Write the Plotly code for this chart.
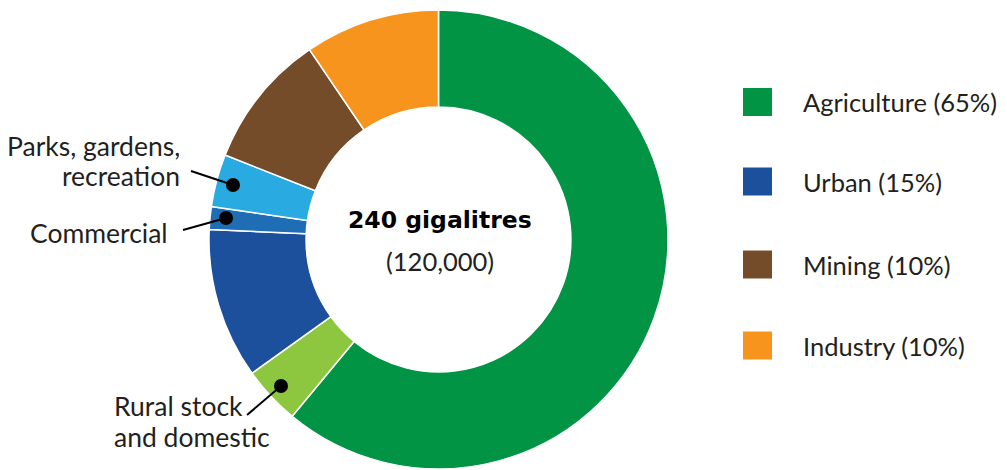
import plotly.graph_objects as go

# Data (percent share of slices, clockwise from 12 o'clock)
slice_names = ["Agriculture", "Rural stock and domestic", "Urban", "Commercial",
               "Parks, gardens, recreation", "Mining", "Industry"]
slice_values = [61.0, 4.1, 10.6, 1.6, 3.7, 9.5, 9.5]
slice_colors = ["#009444", "#8dc63f", "#1c4f9c", "#1f6db5", "#29abe2", "#754c29", "#f7941d"]

legend_labels = ["Agriculture (65%)", "Urban (15%)", "Mining (10%)", "Industry (10%)"]
legend_colors = ["#009444", "#1c4f9c", "#754c29", "#f7941d"]

center_title = "240 gigalitres"
center_sub = "(120,000)"

W, H = 1007, 470
OFF = 8  # page body margin offset
FONT = "Lato"

fig = go.Figure()
fig.add_trace(go.Pie(
    labels=slice_names, values=slice_values, sort=False, direction="clockwise",
    rotation=0, hole=0.577, textinfo="none", hoverinfo="label+value",
    marker=dict(colors=slice_colors, line=dict(color="white", width=1.5)),
    domain=dict(x=[(209-OFF)/W, (668-OFF)/W], y=[1-(469-OFF)/H, 1-(10-OFF)/H]),
    showlegend=False,
))

shapes = []
annotations = []

# Legend
leg_y = [102, 181.5, 264.5, 345.5]
for lab, col, yc in zip(legend_labels, legend_colors, leg_y):
    shapes.append(dict(type="rect", xref="x", yref="y", x0=743, x1=772, y0=yc-14, y1=yc+14,
                       fillcolor=col, line=dict(width=0)))
    annotations.append(dict(x=801, y=yc, xref="x", yref="y", text=lab, showarrow=False,
                            xanchor="left", yanchor="middle",
                            font=dict(family=FONT, size=25.5, color="#231f20")))

# Center text
annotations.append(dict(x=440, y=220, xref="x", yref="y", text="<b>" + center_title + "</b>",
                        showarrow=False, xanchor="center", yanchor="middle",
                        font=dict(family="DejaVu Sans", size=23.5, color="#000000")))
annotations.append(dict(x=440, y=261, xref="x", yref="y", text=center_sub,
                        showarrow=False, xanchor="center", yanchor="middle",
                        font=dict(family=FONT, size=25.5, color="#231f20")))

# Callouts
callouts = [
    (["Parks, gardens,", "recreation"], 182, [146, 176], "right", (191, 171), (233, 185)),
    (["Commercial"], 170, [233], "right", (183, 230), (226, 218)),
    (["Rural stock", "and domestic"], 112, [406, 437], "left", (247, 415), (281, 386)),
]
for lines, tx, tys, anc, p0, p1 in callouts:
    for ln, ty in zip(lines, tys):
        annotations.append(dict(x=tx, y=ty, xref="x", yref="y", text=ln, showarrow=False,
                                xanchor=anc, yanchor="middle",
                                font=dict(family=FONT, size=26.5, color="#231f20")))
    shapes.append(dict(type="line", xref="x", yref="y", x0=p0[0], y0=p0[1], x1=p1[0], y1=p1[1],
                       line=dict(color="black", width=2)))
    r = 7
    shapes.append(dict(type="circle", xref="x", yref="y", x0=p1[0]-r, x1=p1[0]+r,
                       y0=p1[1]-r, y1=p1[1]+r, fillcolor="black", line=dict(width=0)))

fig.update_layout(
    width=W, height=H, margin=dict(l=0, r=0, t=0, b=0),
    paper_bgcolor="white", plot_bgcolor="rgba(0,0,0,0)",
    xaxis=dict(range=[OFF, W+OFF], visible=False, fixedrange=True),
    yaxis=dict(range=[H+OFF, OFF], visible=False, fixedrange=True),
    shapes=shapes, annotations=annotations, showlegend=False,
)
fig.write_html("out.html")
